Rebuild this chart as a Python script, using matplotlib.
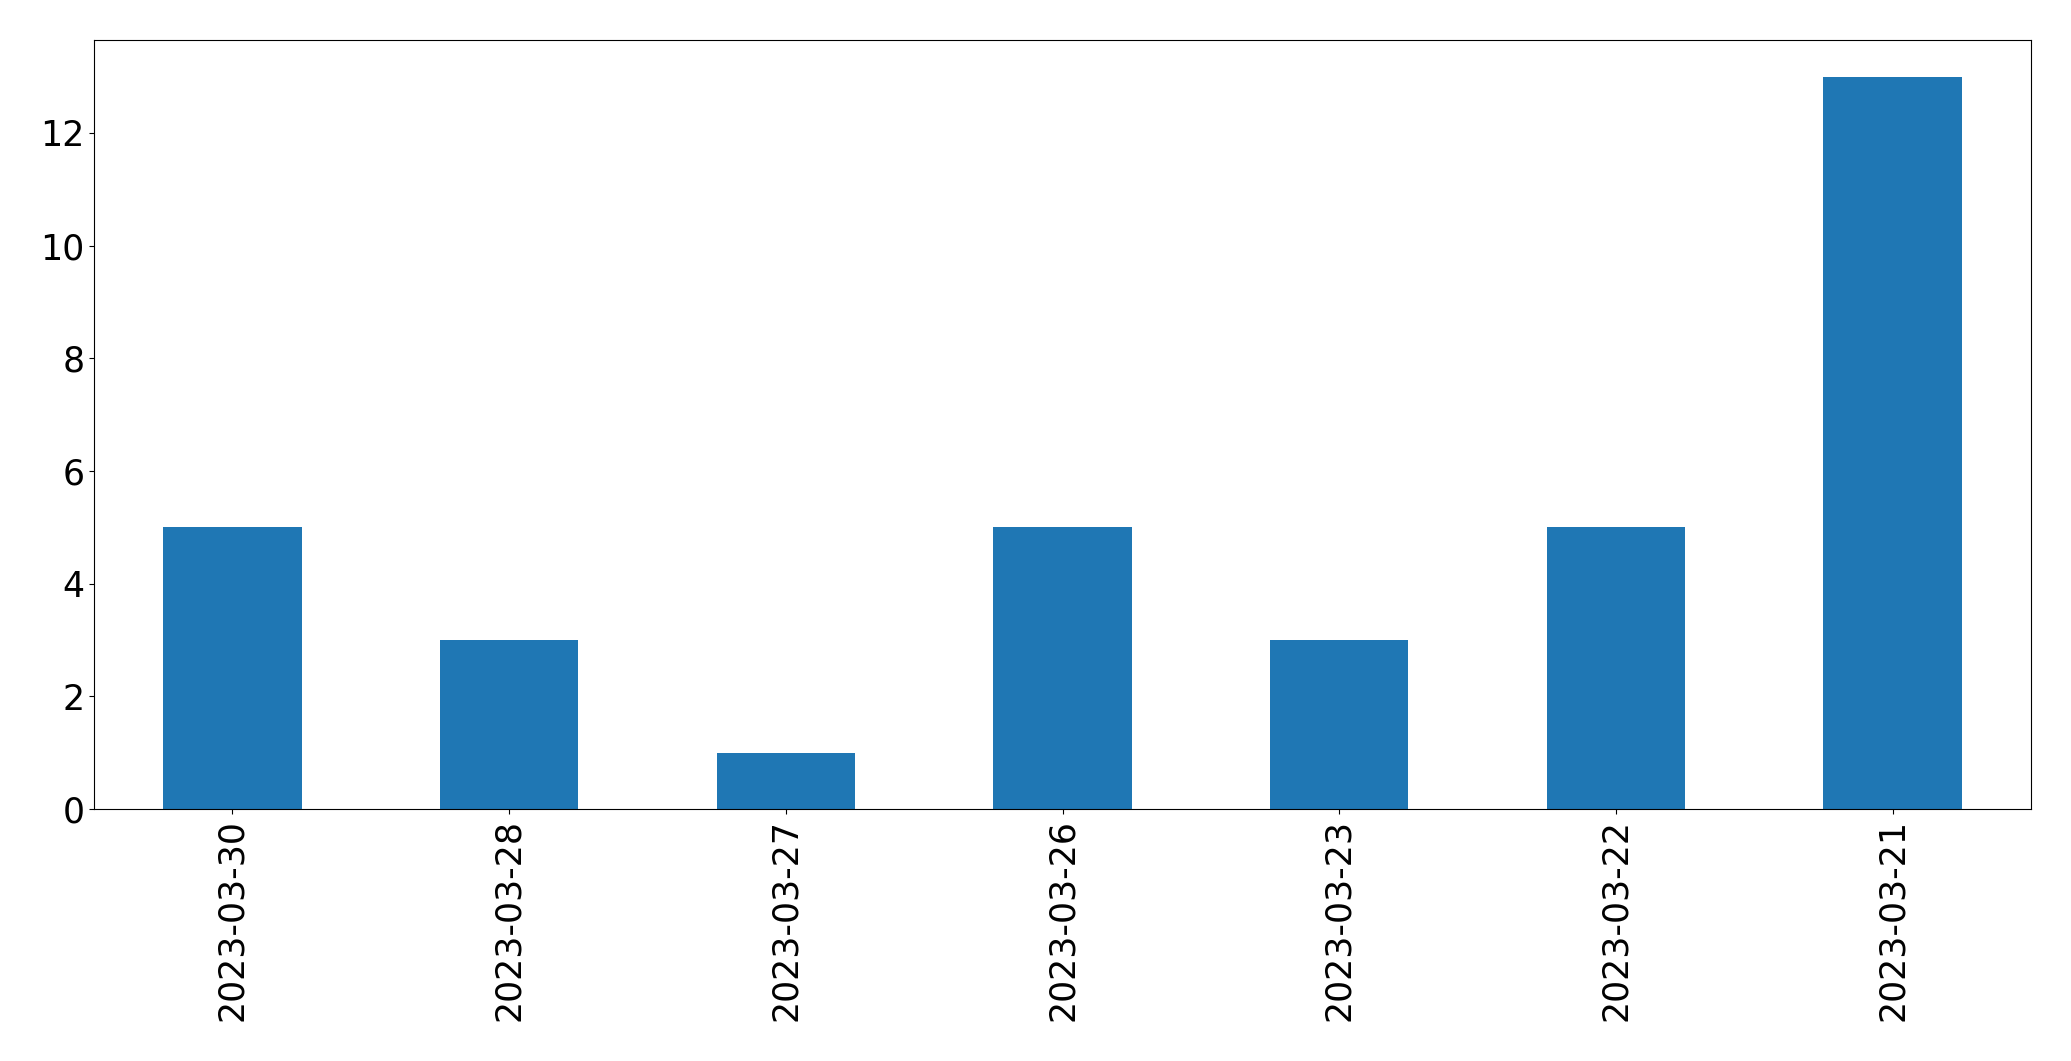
#!/usr/bin/env python3
import matplotlib
matplotlib.use('Agg')
import matplotlib.pyplot as plt
import pandas as pd

dates = ['2023-03-30', '2023-03-28', '2023-03-27', '2023-03-26',
         '2023-03-23', '2023-03-22', '2023-03-21']
counts = [5, 3, 1, 5, 3, 5, 13]


def main():
    plt.rcParams['font.size'] = 25
    fig = plt.figure(figsize=(20.71, 10.61), dpi=100)
    ax = fig.add_axes([0.0454, 0.2375, 0.9353, 0.7248])
    s = pd.Series(counts, index=dates)
    s.plot.bar(ax=ax, color='#1f77b4')
    ax.tick_params(axis='both', labelsize=25)
    fig.savefig('out.png', dpi=100)


if __name__ == '__main__':
    main()
